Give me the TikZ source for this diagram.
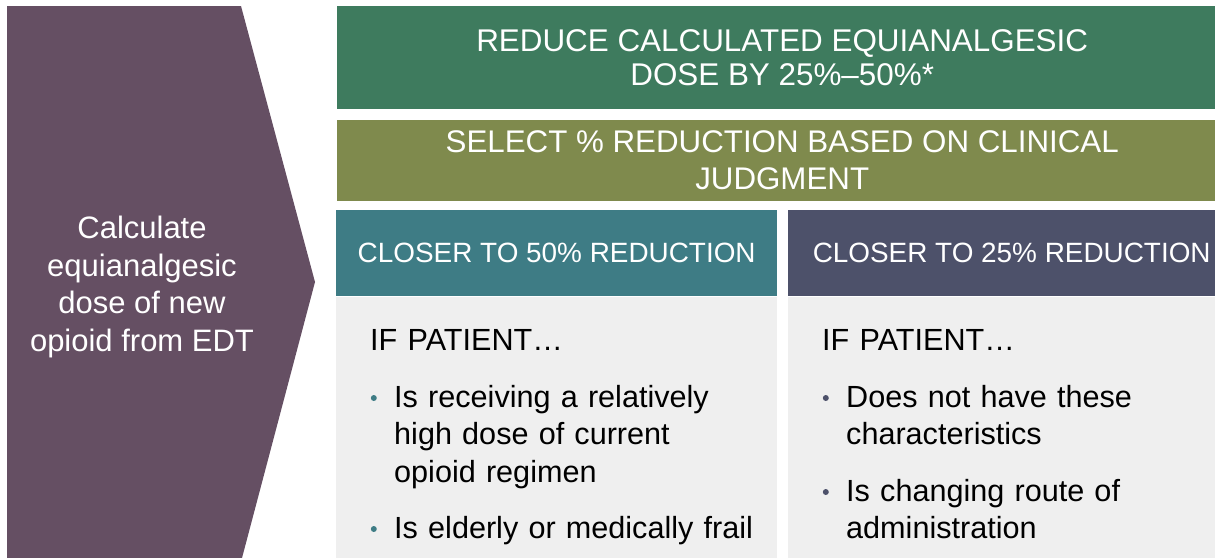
\documentclass[tikz,border=0pt]{standalone}
\usepackage{fontspec}
\setmainfont{Liberation Sans}
\usetikzlibrary{positioning,calc}

\definecolor{chevc}{RGB}{101,79,99}
\definecolor{greenc}{RGB}{62,123,94}
\definecolor{olivec}{RGB}{127,138,77}
\definecolor{tealc}{RGB}{62,124,133}
\definecolor{slatec}{RGB}{77,81,106}
\definecolor{greyc}{RGB}{239,239,239}

\begin{document}
\begin{tikzpicture}[x=1pt,y=-1pt]
		\tikzset{
			bar/.style={
					anchor=north west, inner sep=0pt, text=white, align=center,
				},
			head/.style={
					bar, minimum height=86pt,
					font=\fontsize{27.9}{33}\selectfont,
				},
			body/.style={anchor=north west, fill=greyc, inner sep=0pt, minimum height=261pt},
			item/.style={anchor=base west, inner sep=0pt, text width=370pt, align=left,
					font=\fontsize{30.6}{37.5}\selectfont},
			dot/.style={circle, fill=#1, inner sep=0pt, minimum size=6pt},
			%every node/.style={draw=red},
		}
		\useasboundingbox (0,0) rectangle (1215,557);
		%
		\fill[chevc] (7,6) -- (241,6) -- (315,282) -- (242,558) -- (7,558) -- cycle;
		\node[align=center, text=white, inner sep=0pt, font=\fontsize{31}{37.8}\selectfont]
			(calc) at (142,287) {Calculate\\equianalgesic\\dose of new\\opioid from EDT};
		%
		\node[bar, fill=greenc, minimum width=890pt, minimum height=103pt,
			font=\fontsize{31.4}{34}\selectfont] (dose) at (337,6)
			{REDUCE CALCULATED EQUIANALGESIC\\DOSE BY 25\%–50\%*};
		\node[bar, fill=olivec, minimum width=890pt, minimum height=81pt,
			font=\fontsize{31.3}{37}\selectfont] (sel) at (337,120)
			{SELECT \% REDUCTION BASED ON CLINICAL\\JUDGMENT};
		%
		\node[head, fill=tealc, minimum width=441pt] (h50) at (336,210) {CLOSER TO 50\% REDUCTION};
		\node[head, fill=slatec, minimum width=447pt] (h25) at (788,210) {CLOSER TO 25\% REDUCTION};
		\node[body, minimum width=441pt] (b50) at (h50.south west) {};
		\node[body, minimum width=447pt] (b25) at (h25.south west) {};
		%
		\node[item] (if50) at ($(b50.north west)+(34,54)$) {IF PATIENT…};
		\node[item] (if25) at ($(b25.north west)+(34,54)$) {IF PATIENT…};
		%
		\node[item] (p1) at (394,407) {Is receiving a relatively\\high dose of current\\opioid regimen};
		\node[item] (p2) at (394,538) {Is elderly or medically frail};
		\node[item] (q1) at (846,407) {Does not have these\\characteristics};
		\node[item] (q2) at (846,501) {Is changing route of\\administration};
		\node[dot=tealc, left=17pt of p1.base west, yshift=9pt] (d1) {};
		\node[dot=tealc, left=17pt of p2.base west, yshift=9pt] (d2) {};
		\node[dot=slatec, left=17pt of q1.base west, yshift=9pt] (d3) {};
		\node[dot=slatec, left=17pt of q2.base west, yshift=9pt] (d4) {};
	\end{tikzpicture}
\end{document}
